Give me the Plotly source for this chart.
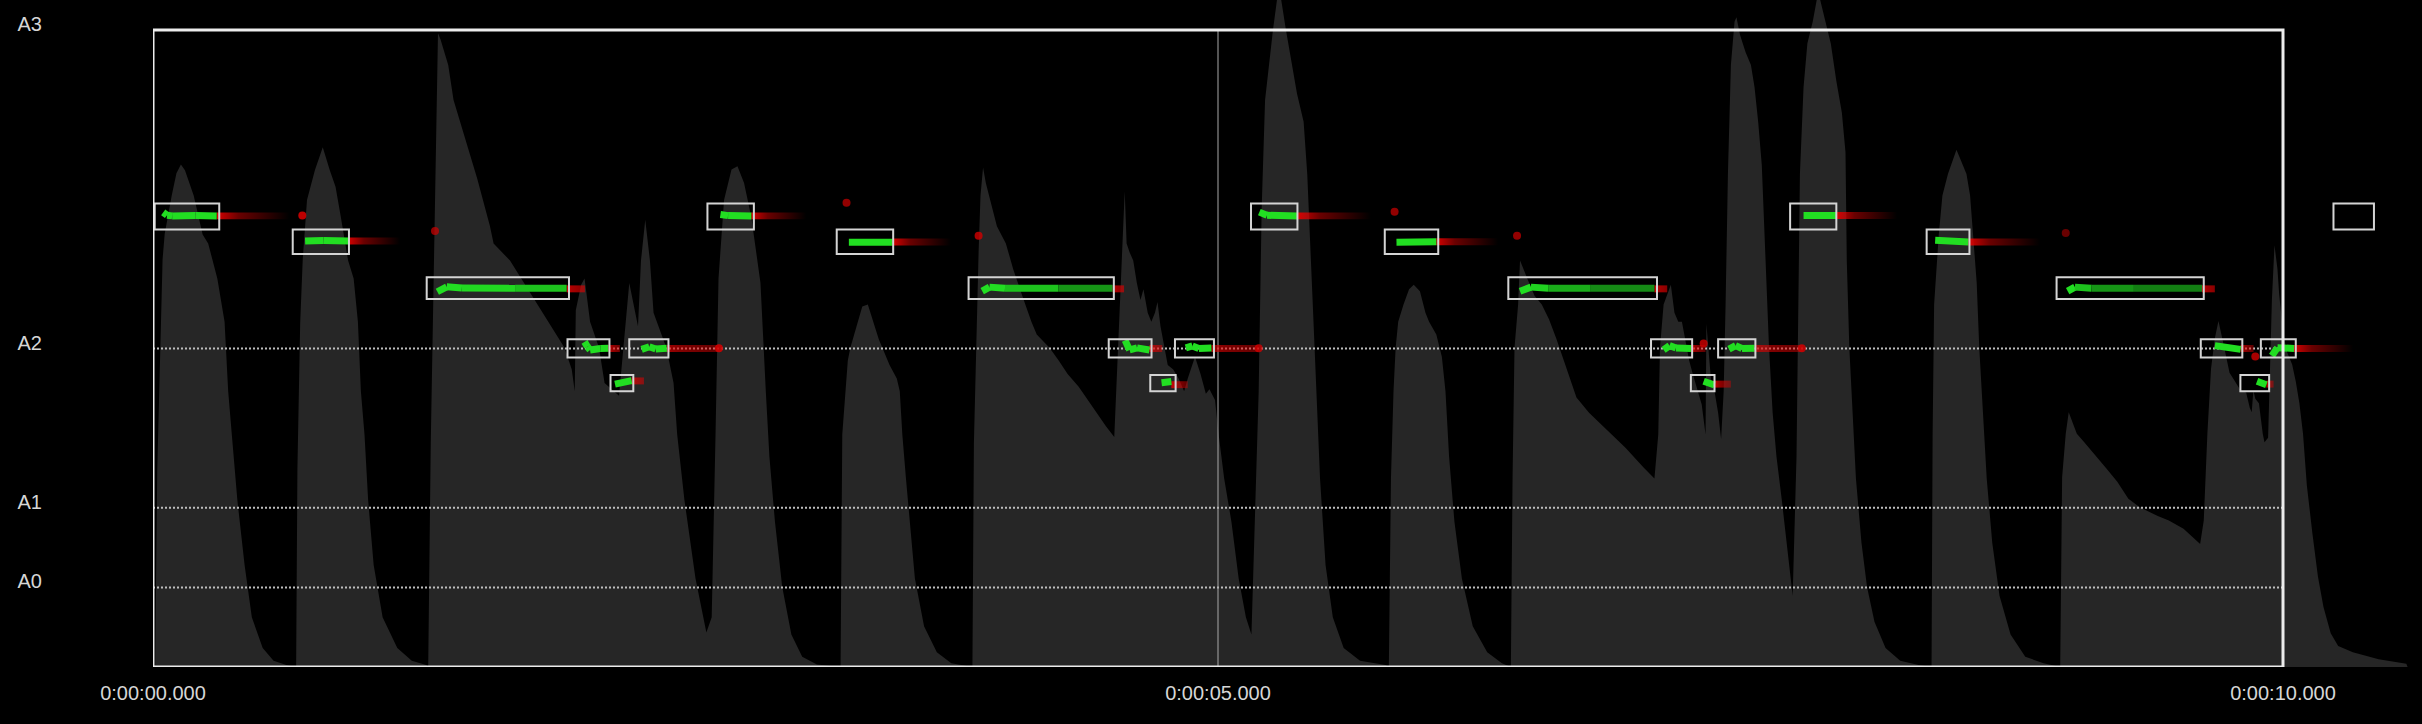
import plotly.graph_objects as go

# ---------------- data ----------------
# amplitude envelope (time in s, amplitude normalised so 1.0 = top of frame)
env_t = [0.010, 0.020, 0.045, 0.055, 0.088, 0.110, 0.131, 0.150, 0.191, 0.233, 0.259, 0.302, 0.336, 0.353, 0.370, 0.396, 0.430, 0.464, 0.515, 0.566, 0.626, 0.668,
         0.672, 0.678, 0.691, 0.703, 0.723, 0.760, 0.797, 0.830, 0.857, 0.882, 0.916, 0.942, 0.962, 0.976, 0.993, 1.010, 1.036, 1.078, 1.147, 1.215, 1.283, 1.290,
         1.292, 1.304, 1.317, 1.331, 1.338, 1.350, 1.386, 1.411, 1.454, 1.488, 1.522, 1.582, 1.599, 1.676, 1.778, 1.830, 1.881, 1.932, 1.966, 1.980, 1.985, 2.010,
         2.026, 2.052, 2.094, 2.120, 2.188, 2.214, 2.236, 2.277, 2.291, 2.311, 2.333, 2.350, 2.410, 2.444, 2.461, 2.495, 2.547, 2.598, 2.623, 2.641,
         2.655, 2.681, 2.716, 2.744, 2.775, 2.809, 2.826, 2.852, 2.877, 2.894, 2.920, 2.954, 2.997, 3.048, 3.117, 3.219,
         3.228, 3.236, 3.262, 3.274, 3.296, 3.330, 3.356, 3.381, 3.407, 3.458, 3.492, 3.506, 3.518, 3.535, 3.552, 3.577, 3.620, 3.680, 3.748, 3.833,
         3.847, 3.854, 3.868, 3.876, 3.885, 3.897, 3.910, 3.936, 3.962, 4.004, 4.039, 4.081, 4.124, 4.149, 4.209, 4.252, 4.294, 4.346, 4.414, 4.474, 4.513,
         4.525, 4.542, 4.551, 4.562, 4.571, 4.585, 4.602, 4.619, 4.636, 4.650, 4.670, 4.687, 4.704, 4.716, 4.730, 4.747, 4.764, 4.790, 4.815, 4.841,
         4.858, 4.892, 4.918, 4.943, 4.960, 4.986, 5.003, 5.029, 5.063, 5.097, 5.131, 5.157, 5.174, 5.191, 5.205, 5.221, 5.258, 5.286, 5.319, 5.340,
         5.371, 5.402, 5.419, 5.445, 5.462, 5.479, 5.505, 5.539, 5.590, 5.667, 5.786, 5.800,
         5.802, 5.812, 5.824, 5.834, 5.846, 5.871, 5.897, 5.919, 5.948, 5.974, 5.991, 6.025, 6.051, 6.068, 6.085, 6.110, 6.145, 6.196, 6.264, 6.333, 6.370,
         6.375, 6.383, 6.392, 6.409, 6.418, 6.452, 6.486, 6.520, 6.554, 6.589, 6.623, 6.657, 6.683, 6.742, 6.828, 6.913, 6.998, 7.049, 7.067, 7.075, 7.092,
         7.126, 7.143, 7.161, 7.178, 7.195, 7.212, 7.229, 7.254, 7.271, 7.289, 7.293, 7.302, 7.314, 7.331, 7.348, 7.362, 7.374, 7.383, 7.394, 7.408, 7.425,
         7.434, 7.451, 7.477, 7.502, 7.519, 7.536, 7.553, 7.570, 7.587, 7.604, 7.622, 7.647, 7.673, 7.698, 7.716, 7.724, 7.732, 7.749, 7.767, 7.792, 7.818,
         7.852, 7.877, 7.903, 7.929, 7.946, 7.952, 7.964, 7.978, 7.995, 8.021, 8.047, 8.082, 8.134, 8.203, 8.289, 8.348,
         8.350, 8.355, 8.362, 8.384, 8.401, 8.427, 8.453, 8.467, 8.488, 8.514, 8.531, 8.548, 8.562, 8.574, 8.592, 8.609, 8.635, 8.669, 8.721, 8.790, 8.876, 8.950,
         8.954, 8.963, 8.980, 8.994, 9.032, 9.067, 9.118, 9.170, 9.222, 9.274, 9.326, 9.412, 9.464, 9.533, 9.611, 9.628, 9.645, 9.662, 9.680, 9.697, 9.723,
         9.749, 9.775, 9.801, 9.827, 9.844, 9.853, 9.861, 9.870, 9.887, 9.905, 9.913, 9.930, 9.939, 9.948, 9.960, 9.974, 9.982, 9.999, 10.017, 10.043,
         10.060, 10.077, 10.094, 10.112, 10.138, 10.164, 10.190, 10.224, 10.259, 10.328, 10.449, 10.579, 10.585]
env_amp = [0.000, 0.310, 0.640, 0.680, 0.740, 0.775, 0.789, 0.780, 0.740, 0.679, 0.665, 0.610, 0.542, 0.433, 0.365, 0.262, 0.160, 0.078, 0.030, 0.010, 0.003, 0.000,
           0.000, 0.310, 0.540, 0.640, 0.733, 0.780, 0.816, 0.780, 0.754, 0.706, 0.638, 0.610, 0.542, 0.433, 0.365, 0.262, 0.160, 0.078, 0.030, 0.010, 0.003, 0.000,
           0.000, 0.351, 0.610, 0.842, 0.995, 0.985, 0.945, 0.890, 0.842, 0.808, 0.767, 0.692, 0.665, 0.638, 0.583, 0.556, 0.528, 0.501, 0.467, 0.433, 0.560, 0.600,
           0.610, 0.542, 0.501, 0.446, 0.426, 0.528, 0.603, 0.535, 0.638, 0.702, 0.638, 0.556, 0.501, 0.446, 0.365, 0.262, 0.139, 0.054, 0.078, 0.365,
           0.610, 0.733, 0.781, 0.786, 0.760, 0.706, 0.665, 0.603, 0.433, 0.330, 0.228, 0.126, 0.051, 0.016, 0.004, 0.000,
           0.000, 0.365, 0.481, 0.501, 0.528, 0.566, 0.569, 0.542, 0.515, 0.474, 0.453, 0.433, 0.365, 0.296, 0.228, 0.139, 0.064, 0.023, 0.006, 0.000,
           0.000, 0.351, 0.569, 0.651, 0.740, 0.784, 0.760, 0.726, 0.692, 0.665, 0.624, 0.583, 0.542, 0.522, 0.501, 0.481, 0.460, 0.440, 0.406, 0.378, 0.361,
           0.453, 0.569, 0.651, 0.747, 0.665, 0.651, 0.638, 0.603, 0.576, 0.593, 0.556, 0.542, 0.556, 0.573, 0.535, 0.501, 0.474, 0.467, 0.453, 0.433,
           0.453, 0.487, 0.460, 0.429, 0.436, 0.419, 0.365, 0.296, 0.228, 0.139, 0.078, 0.051, 0.228, 0.433, 0.720, 0.890, 1.000, 1.070, 1.000, 0.960,
           0.900, 0.856, 0.774, 0.569, 0.433, 0.296, 0.160, 0.078, 0.030, 0.010, 0.003, 0.000,
           0.000, 0.296, 0.433, 0.501, 0.542, 0.569, 0.593, 0.600, 0.590, 0.556, 0.542, 0.522, 0.487, 0.433, 0.330, 0.228, 0.139, 0.064, 0.023, 0.006, 0.000,
           0.000, 0.300, 0.501, 0.569, 0.638, 0.610, 0.583, 0.569, 0.546, 0.515, 0.481, 0.446, 0.423, 0.399, 0.371, 0.344, 0.313, 0.296, 0.365, 0.501, 0.569,
           0.600, 0.556, 0.542, 0.542, 0.508, 0.481, 0.460, 0.433, 0.412, 0.365, 0.539, 0.501, 0.453, 0.433, 0.399, 0.358, 0.433, 0.569, 0.774, 0.945, 1.013,
           1.020, 0.992, 0.965, 0.945, 0.910, 0.856, 0.788, 0.638, 0.501, 0.399, 0.330, 0.262, 0.180, 0.112, 0.330, 0.569, 0.774, 0.910, 0.979, 1.013, 1.060,
           1.013, 0.979, 0.920, 0.870, 0.808, 0.638, 0.501, 0.399, 0.296, 0.195, 0.126, 0.071, 0.030, 0.010, 0.003, 0.000,
           0.000, 0.365, 0.569, 0.679, 0.740, 0.774, 0.801, 0.812, 0.795, 0.774, 0.740, 0.672, 0.603, 0.501, 0.399, 0.296, 0.195, 0.112, 0.051, 0.016, 0.006, 0.000,
           0.000, 0.298, 0.366, 0.400, 0.366, 0.353, 0.332, 0.312, 0.291, 0.264, 0.251, 0.237, 0.230, 0.217, 0.193, 0.230, 0.366, 0.468, 0.516, 0.543, 0.503,
           0.462, 0.448, 0.434, 0.431, 0.407, 0.400, 0.434, 0.421, 0.414, 0.366, 0.353, 0.360, 0.468, 0.577, 0.662, 0.625, 0.585, 0.530, 0.496, 0.475,
           0.448, 0.414, 0.366, 0.285, 0.210, 0.142, 0.094, 0.053, 0.033, 0.023, 0.012, 0.005, 0.000]

# notes (boxes)
note_names = ["D#3", "D3", "C3", "A2", "G2", "A2", "D#3", "D3", "C3", "A2", "G2", "A2",
              "D#3", "D3", "C3", "A2", "G2", "A2", "D#3", "D3", "C3", "A2", "G2", "A2", "D#3"]
note_start = [0.008, 0.656, 1.285, 1.946, 2.148, 2.236, 2.603, 3.210, 3.829, 4.487, 4.682, 4.798,
              5.155, 5.783, 6.363, 7.033, 7.220, 7.348, 7.686, 8.327, 8.937, 9.614, 9.800, 9.896, 10.237]
note_end = [0.311, 0.920, 1.953, 2.143, 2.255, 2.420, 2.821, 3.475, 4.511, 4.688, 4.801, 4.981,
            5.373, 6.034, 7.061, 7.226, 7.331, 7.523, 7.903, 8.528, 9.628, 9.809, 9.935, 10.060, 10.427]
note_hz = {"G2": 98.00, "A2": 110.00, "C3": 130.81, "D3": 146.83, "D#3": 155.56}

# detected pitch (green) per note
pitch_t = [
    [0.048, 0.066, 0.090, 0.200, 0.299], [0.714, 0.800, 0.917], [1.335, 1.379, 1.450, 1.700, 1.942],
    [2.026, 2.040, 2.052, 2.100, 2.138], [2.169, 2.247], [2.294, 2.330, 2.360, 2.412],
    [2.664, 2.700, 2.809], [3.267, 3.472], [3.893, 3.927, 4.000, 4.250, 4.505],
    [4.564, 4.585, 4.620, 4.678], [4.735, 4.781], [4.849, 4.880, 4.910, 4.969],
    [5.194, 5.230, 5.373], [5.838, 6.025], [6.418, 6.469, 6.550, 6.750, 7.049],
    [7.092, 7.120, 7.150, 7.221], [7.280, 7.331], [7.399, 7.430, 7.460, 7.519],
    [7.749, 7.903], [8.367, 8.523], [8.989, 9.023, 9.100, 9.300, 9.620],
    [9.680, 9.801], [9.878, 9.922], [9.948, 9.974, 10.052]]
pitch_hz = [
    [157.0, 156.0, 155.8, 155.9, 155.8], [147.1, 147.3, 147.1], [129.6, 131.3, 130.9, 130.8, 130.8],
    [112.3, 110.6, 109.5, 110.0, 110.1], [97.7, 98.9], [109.7, 110.6, 109.8, 110.1],
    [156.3, 155.9, 155.8], [146.7, 146.7], [129.8, 131.2, 130.8, 130.8, 130.8],
    [112.8, 109.5, 110.2, 109.5], [98.2, 98.6], [110.2, 110.9, 110.0, 110.2],
    [157.1, 156.0, 155.8], [146.7, 146.9], [129.8, 131.2, 130.8, 130.8, 130.8],
    [109.5, 111.0, 110.2, 110.0], [98.7, 97.4], [109.8, 111.0, 110.0, 110.1],
    [155.9, 155.9], [147.4, 146.8], [129.8, 131.2, 130.8, 130.8, 130.8],
    [111.0, 109.7], [98.7, 97.5], [107.5, 110.3, 110.0]]
pitch_conf = [
    [1, 1, 1, 1, 1], [1, 1, 1], [1, 1, 1, 0.95, 0.8],
    [1, 1, 1, 1, 1], [1, 1], [1, 1, 1, 1],
    [1, 1, 1], [1, 1], [1, 1, 1, 0.75, 0.6],
    [1, 1, 1, 1], [1, 1], [1, 1, 1, 1],
    [1, 1, 1], [1, 1], [1, 1, 0.9, 0.65, 0.6],
    [1, 1, 1, 1], [1, 1], [1, 1, 1, 1],
    [1, 1], [1, 1], [1, 1, 0.75, 0.6, 0.55],
    [1, 1], [1, 1], [1, 1, 1]]

# low-confidence (red) continuation after each note
tail_t0 = [0.299, 0.917, 1.942, 2.138, 2.247, 2.412, 2.809, 3.472, 4.505, 4.678, 4.781, 4.969,
           5.373, 6.025, 7.049, 7.221, 7.331, 7.519, 7.903, 8.523, 9.620, 9.801, 9.922, 10.052]
tail_t1 = [0.640, 1.160, 2.028, 2.192, 2.305, 2.650, 3.066, 3.746, 4.559, 4.738, 4.858, 5.190,
           5.718, 6.315, 7.109, 7.289, 7.408, 7.749, 8.188, 8.859, 9.680, 9.862, 9.956, 10.329]
tail_hz = [155.8, 147.1, 130.6, 110.0, 98.8, 110.0, 155.8, 146.8, 130.6, 110.0, 97.5, 110.0,
           155.8, 146.9, 130.6, 110.0, 97.7, 110.0, 155.9, 146.8, 130.6, 110.0, 97.7, 110.0]
tail_a0 = [0.95, 0.95, 0.9, 0.9, 0.9, 0.7, 0.95, 0.95, 0.9, 0.9, 0.9, 0.7,
           0.95, 0.95, 0.9, 0.9, 0.9, 0.7, 0.95, 0.95, 0.9, 0.9, 0.9, 0.95]
tail_a1 = [0.0, 0.0, 0.6, 0.5, 0.5, 0.45, 0.0, 0.0, 0.6, 0.5, 0.4, 0.45,
           0.0, 0.0, 0.6, 0.4, 0.4, 0.45, 0.0, 0.0, 0.6, 0.4, 0.4, 0.0]

# isolated red pitch points
dot_t = [0.701, 1.324, 2.657, 3.256, 3.876, 5.191, 5.829, 6.404, 7.280, 7.741, 8.980, 9.870]
dot_hz = [155.9, 150.6, 110.1, 160.3, 148.9, 110.1, 157.2, 148.9, 111.7, 110.1, 149.9, 107.2]
dot_a = [0.9, 0.7, 0.9, 0.7, 0.8, 0.8, 0.7, 0.7, 0.8, 0.8, 0.5, 0.8]

# axes
y_tick_hz = [27.5, 55.0, 110.0, 220.0]
y_tick_text = ["A0", "A1", "A2", "A3"]
x_tick_s = [0, 5, 10]
x_tick_text = ["0:00:00.000", "0:00:05.000", "0:00:10.000"]

# ---------------- figure ----------------
T_END = 10.0
F_TOP = 220.0
X_MAX = 2269 / 213.0
Y_MAX = 667 / (637 / 220.0)

fig = go.Figure()

# amplitude envelope, scaled so amplitude 1.0 meets the top of the frame
env_y = [a * F_TOP for a in env_amp]
fig.add_trace(go.Scatter(x=env_t, y=env_y, mode="lines", line=dict(width=0, color="#262626"),
                         fill="tozeroy", fillcolor="#262626", hoverinfo="skip", showlegend=False))

# dotted note gridlines (A0, A1, A2) and 5 s marker
for hz in y_tick_hz[:-1]:
    fig.add_trace(go.Scatter(x=[0, T_END], y=[hz, hz], mode="lines",
                             line=dict(color="#bdbdbd", width=2, dash="2px,2px"),
                             hoverinfo="skip", showlegend=False))
fig.add_trace(go.Scatter(x=[5, 5], y=[0, F_TOP], mode="lines", line=dict(color="#a8a8a8", width=1),
                         hoverinfo="skip", showlegend=False))

# red tails with fading gradient
HALF = 1.2
for t0, t1, hz, a0, a1 in zip(tail_t0, tail_t1, tail_hz, tail_a0, tail_a1):
    amid = a1 + (a0 - a1) * 0.5
    fig.add_trace(go.Scatter(
        x=[t0, t1, t1, t0, t0], y=[hz - HALF, hz - HALF, hz + HALF, hz + HALF, hz - HALF],
        mode="lines", line=dict(width=0), fill="toself",
        fillgradient=dict(type="horizontal",
                          colorscale=[[0, f"rgba(225,0,0,{a0})"], [0.3, f"rgba(225,0,0,{amid})"],
                                      [1, f"rgba(225,0,0,{a1})"]]),
        hoverinfo="skip", showlegend=False))

# isolated red points
fig.add_trace(go.Scatter(x=dot_t, y=dot_hz, mode="markers",
                         marker=dict(size=8, color="rgb(210,0,0)", opacity=dot_a, line=dict(width=0)),
                         hoverinfo="skip", showlegend=False))

# green pitch tracks
for ts, hs, cs in zip(pitch_t, pitch_hz, pitch_conf):
    for i in range(len(ts) - 1):
        c = (cs[i] + cs[i + 1]) / 2
        col = f"rgb({int(34 * c)},{int(222 * c)},{int(34 * c)})"
        fig.add_trace(go.Scatter(x=ts[i:i + 2], y=hs[i:i + 2], mode="lines",
                                 line=dict(color=col, width=7),
                                 hoverinfo="skip", showlegend=False))

# note boxes (+/- 50 cents around note)
for name, s, e in zip(note_names, note_start, note_end):
    f = note_hz[name]
    fig.add_shape(type="rect", xref="x", yref="y", x0=s, x1=e,
                  y0=f * 2 ** (-1 / 24), y1=f * 2 ** (1 / 24),
                  line=dict(color="#d4d4d4", width=2), fillcolor="rgba(0,0,0,0)", layer="above")

# frame
fig.add_shape(type="rect", xref="x", yref="y", x0=0, x1=T_END, y0=0, y1=F_TOP,
              line=dict(color="#ececec", width=3), fillcolor="rgba(0,0,0,0)", layer="above")

font = dict(family="Liberation Sans, Arial, sans-serif", size=20, color="#d6d6d6")
fig.update_layout(
    template="none",
    width=2422, height=724,
    margin=dict(l=153, r=0, t=0, b=57, pad=0),
    paper_bgcolor="#000000", plot_bgcolor="#000000",
    showlegend=False,
    xaxis=dict(range=[0, X_MAX], tickvals=x_tick_s, ticktext=x_tick_text, showgrid=False,
               zeroline=False, showline=False, ticks="", tickfont=font, ticklabelstandoff=12,
               automargin=False, fixedrange=True),
    yaxis=dict(range=[0, Y_MAX], tickvals=y_tick_hz, ticktext=y_tick_text, showgrid=False,
               zeroline=False, showline=False, ticks="", tickfont=font, ticklabelstandoff=110,
               ticklabelshift=-6, automargin=False, fixedrange=True),
)

fig.write_html("out.html", config={"displayModeBar": False},
               post_script="document.body.style.margin='0';document.body.style.padding='0';document.body.style.background='#000';")
